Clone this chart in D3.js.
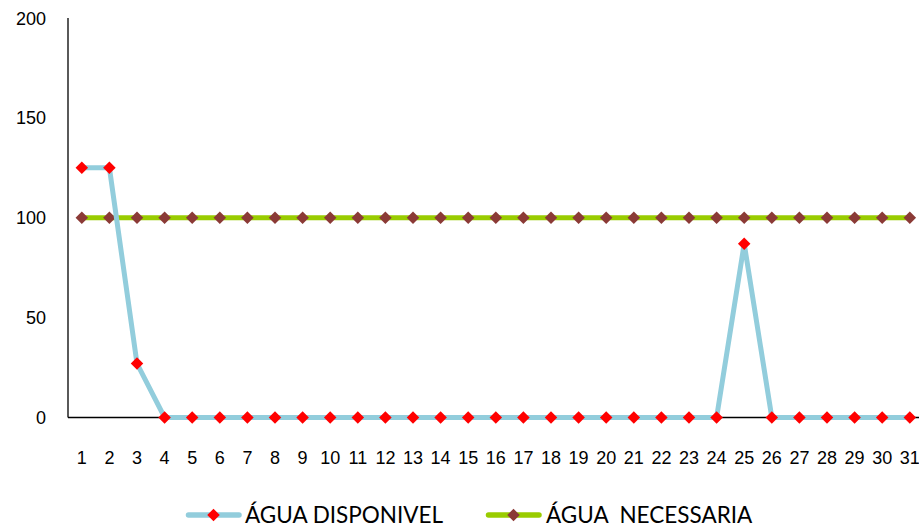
<!DOCTYPE html>
<html><head><meta charset="utf-8">
<script src="https://cdn.jsdelivr.net/npm/d3@7"></script>
<style>body{margin:0;background:#fff}svg{display:block}</style>
</head><body>
<svg id="c" width="919" height="527"></svg>
<script>
const days = d3.range(1, 32).map(String);
const aguaDisponivel = [125,125,27,0,0,0,0,0,0,0,0,0,0,0,0,0,0,0,0,0,0,0,0,0,87,0,0,0,0,0,0];
const aguaNecessaria = [100,100,100,100,100,100,100,100,100,100,100,100,100,100,100,100,100,100,100,100,100,100,100,100,100,100,100,100,100,100,100];
const yTicks = [0,50,100,150,200];
const seriesNames = ["ÁGUA DISPONIVEL", "ÁGUA  NECESSARIA"];

const svg = d3.select("#c");
const plotLeft = 68, plotTop = 18, plotBottom = 417.5;
const step = 27.6;
const x = d3.scalePoint().domain(days).range([plotLeft + step/2, plotLeft + step/2 + step*30]);
const y = d3.scaleLinear().domain([0,200]).range([plotBottom, plotTop]);

// axes
svg.append("line").attr("x1",plotLeft).attr("x2",plotLeft).attr("y1",plotTop).attr("y2",plotBottom).attr("stroke","#000").attr("stroke-width",1.3);
svg.append("line").attr("x1",plotLeft).attr("x2",919).attr("y1",plotBottom).attr("y2",plotBottom).attr("stroke","#000").attr("stroke-width",1.3);
svg.selectAll(".yt").data(yTicks).enter().append("text")
  .attr("x",46).attr("y",d=>y(d)+6.5).attr("text-anchor","end")
  .attr("font-family","'Liberation Sans', Arial, sans-serif").attr("font-size",18).attr("fill","#000").text(d=>d);
svg.selectAll(".xt").data(days).enter().append("text")
  .attr("x",d=>x(d)).attr("y",464).attr("text-anchor","middle")
  .attr("font-family","'Liberation Sans', Arial, sans-serif").attr("font-size",18).attr("fill","#000").text(d=>d);

const line = d3.line().x((d,i)=>x(days[i])).y(d=>y(d));
const diamond = d3.symbol().type(d3.symbolDiamond2).size(100);

function series(vals, lc, mc){
  svg.append("path").attr("d",line(vals)).attr("fill","none").attr("stroke",lc).attr("stroke-width",5);
  svg.selectAll(null).data(vals).enter().append("path")
    .attr("d",diamond).attr("transform",(d,i)=>`translate(${x(days[i])},${y(d)})`).attr("fill",mc);
}
series(aguaNecessaria, "#99CC00", "#8B3A36");
series(aguaDisponivel, "#92CDDC", "#FF0000");

// legend
const leg = [
  {name: seriesNames[0], lc:"#92CDDC", mc:"#FF0000", x0:186, tx:245},
  {name: seriesNames[1], lc:"#99CC00", mc:"#8B3A36", x0:486, tx:546}
];
leg.forEach(l=>{
  svg.append("line").attr("x1",l.x0+2.5).attr("x2",l.x0+53).attr("y1",515).attr("y2",515).attr("stroke",l.lc).attr("stroke-width",5.5).attr("stroke-linecap","round");
  svg.append("path").attr("d",diamond).attr("transform",`translate(${l.x0+27.5},515)`).attr("fill",l.mc);
  svg.append("text").attr("x",l.tx).attr("y",522.5).attr("font-family","Lato, 'Open Sans', sans-serif").attr("font-size",22.5).attr("fill","#000").style("white-space","pre").text(l.name);
});
</script>
</body></html>
